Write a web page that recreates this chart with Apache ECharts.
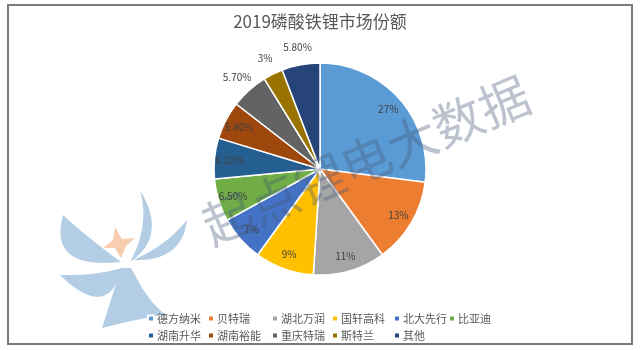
<!DOCTYPE html>
<html>
<head>
<meta charset="utf-8">
<script src="https://cdn.jsdelivr.net/npm/echarts@6/dist/echarts.min.js"></script>
<style>
  html, body { margin: 0; padding: 0; background: #fff; }
  #chart { width: 640px; height: 351px; }
</style>
</head>
<body>
<div id="chart"></div>
<script>
// data
const categories = ['德方纳米', '贝特瑞', '湖北万润', '国轩高科', '北大先行', '比亚迪', '湖南升华', '湖南裕能', '重庆特瑞', '斯特兰', '其他'];
const shares = [27, 13, 11, 9, 7, 6.5, 6.2, 5.8, 5.7, 3, 5.8];
const colors = ['#5b9bd5', '#ed7d31', '#a5a5a5', '#ffc000', '#4472c4', '#70ad47', '#255e91', '#9e480e', '#636363', '#997300', '#264478'];
const outsideLabels = ['重庆特瑞', '斯特兰', '其他'];
// legend columns (two rows, Excel style)
const legendColumns = [
    ['德方纳米', '湖南升华'],
    ['贝特瑞', '湖南裕能'],
    ['湖北万润', '重庆特瑞'],
    ['国轩高科', '斯特兰'],
    ['北大先行', '其他'],
    ['比亚迪']
];
const legendLeft = [142, 202, 266, 326, 388, 443];

const cx = 320, cy = 169, r = 106;
const font = '"Noto Sans CJK SC", "Noto Sans", sans-serif';

function fnc_label(v){
    return Number.isInteger(v) ? v + '%' : v.toFixed(2) + '%';
}

function fnc_pie_data(outside){
    let data = [];
    for(let i in categories){
        let isOut = outsideLabels.indexOf(categories[i]) != -1;
        data.push({
            name: categories[i],
            value: shares[i],
            label: {show: outside ? isOut : !isOut}
        });
    }
    return data;
}

// leaf shape for the logo: two quadratic curves p0 -> p2 (via c1) and back (via c2)
function fnc_leaf(p0, c1, p2, c2){
    let pts = [];
    for(let k = 0; k <= 16; k++){
        let t = k / 16;
        pts.push([
            (1-t)*(1-t)*p0[0] + 2*(1-t)*t*c1[0] + t*t*p2[0],
            (1-t)*(1-t)*p0[1] + 2*(1-t)*t*c1[1] + t*t*p2[1]
        ]);
    }
    for(let k = 1; k < 16; k++){
        let t = k / 16;
        pts.push([
            (1-t)*(1-t)*p2[0] + 2*(1-t)*t*c2[0] + t*t*p0[0],
            (1-t)*(1-t)*p2[1] + 2*(1-t)*t*c2[1] + t*t*p0[1]
        ]);
    }
    return {type: 'polygon', shape: {points: pts}, style: {fill: '#b3cde5'}, z: -1};
}

let mainData = [];
for(let i in categories){
    mainData.push({name: categories[i], value: shares[i], itemStyle: {color: colors[i]}});
}

let legends = [];
for(let i in legendColumns){
    legends.push({
        orient: 'vertical',
        left: legendLeft[i],
        top: 308,
        itemWidth: 6,
        itemHeight: 6,
        itemGap: 6,
        icon: 'rect',
        data: legendColumns[i],
        textStyle: {color: '#595959', fontSize: 11, fontFamily: font, padding: [0, 0, 0, -2]},
        selectedMode: false
    });
}

const labelStyle = {
    position: 'inside',
    formatter: function(p){ return fnc_label(p.value); },
    color: '#404040',
    fontSize: 10,
    fontFamily: font
};

const transparentItem = {color: 'rgba(0,0,0,0)', borderWidth: 0};

let option = {
    backgroundColor: '#ffffff',
    animation: false,
    color: colors,
    title: {
        text: '2019磷酸铁锂市场份额',
        left: 'center',
        top: 8,
        textStyle: {color: '#595959', fontSize: 17, fontWeight: 'normal', fontFamily: font}
    },
    legend: legends,
    graphic: [
        // frame
        {type: 'rect', shape: {x: 8, y: 5, width: 624, height: 339}, style: {fill: 'none', stroke: '#7a7a7a', lineWidth: 2}, z: 10},
        // logo watermark
        fnc_leaf([63, 215], [48, 270], [121, 262], [88, 238]),
        fnc_leaf([140, 190], [168, 236], [130, 262], [150, 226]),
        fnc_leaf([133, 260], [166, 246], [187, 220], [182, 262]),
        fnc_leaf([60, 275], [108, 322], [122, 268], [94, 276]),
        {type: 'polygon', shape: {points: [[121, 268], [102, 328], [118, 324], [136, 320], [152, 317], [164, 314], [152, 302], [142, 288], [131, 268]]}, style: {fill: '#b3cde5'}, z: -1},
        {type: 'polygon', shape: {points: [[115, 227], [122, 239], [135, 238], [126, 246], [121, 258], [115, 248], [103, 248], [113, 240]]}, style: {fill: '#f8ccae'}, z: -1},
        // text watermark
        {
            type: 'text',
            x: 366, y: 160,
            rotation: 0.40,
            style: {
                text: '起点锂电大数据',
                fill: 'rgba(70,90,120,0.36)',
                fontSize: 50,
                fontFamily: font,
                align: 'center',
                verticalAlign: 'middle'
            },
            z: 100
        }
    ],
    series: [
        {
            type: 'pie',
            center: [cx, cy],
            radius: [0, r],
            startAngle: 90,
            clockwise: true,
            label: {show: false},
            labelLine: {show: false},
            itemStyle: {borderColor: '#ffffff', borderWidth: 1.5},
            emphasis: {disabled: true},
            data: mainData
        },
        {
            type: 'pie',
            center: [cx, cy],
            radius: [70, r],
            startAngle: 90,
            silent: true,
            label: labelStyle,
            labelLine: {show: false},
            itemStyle: transparentItem,
            data: fnc_pie_data(false)
        },
        {
            type: 'pie',
            center: [cx, cy],
            radius: [108, 134],
            startAngle: 90,
            silent: true,
            label: labelStyle,
            labelLine: {show: false},
            itemStyle: transparentItem,
            data: fnc_pie_data(true)
        }
    ]
};

let chart = echarts.init(document.getElementById('chart'), null, {renderer: 'canvas'});
chart.setOption(option);
</script>
</body>
</html>
